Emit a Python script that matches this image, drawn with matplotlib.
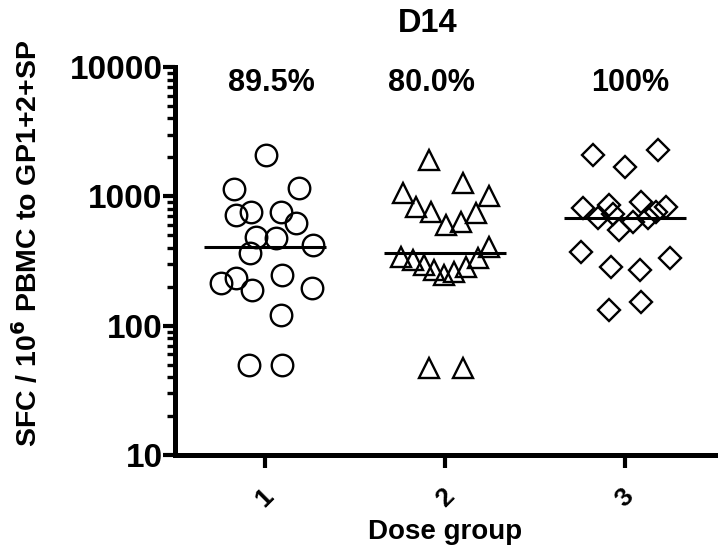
import matplotlib
matplotlib.use("Agg")
import matplotlib.pyplot as plt
from matplotlib.ticker import LogLocator, FixedLocator, NullFormatter
import numpy as np

plt.rcParams['font.family'] = ['Liberation Sans', 'DejaVu Sans']
plt.rcParams['font.weight'] = 'bold'

# ---- data ----
groups = [1, 2, 3]
group_labels = ["1", "2", "3"]
pct_labels = ["89.5%", "80.0%", "100%"]

g1_values = [2089, 1141, 1161, 718, 757, 757, 623, 485, 477, 421, 365,
             214, 234, 189, 247, 196, 121, 50, 50]
g1_offsets = [0.006, -0.172, 0.189, -0.161, -0.078, 0.089, 0.172, -0.05, 0.061, 0.267, -0.083,
              -0.244, -0.161, -0.072, 0.094, 0.261, 0.089, -0.089, 0.094]

g2_values = [1912, 1269, 1062, 1007, 828, 757, 601, 634, 744, 406,
             340, 322, 295, 270, 247, 260, 284, 334, 47, 47]
g2_offsets = [-0.089, 0.1, -0.233, 0.244, -0.161, -0.078, 0.006, 0.089, 0.172, 0.244,
              -0.244, -0.178, -0.117, -0.061, -0.006, 0.05, 0.117, 0.183, -0.089, 0.1]

g3_values = [2089, 2286, 1688, 813, 858, 905, 828, 681, 731, 550, 634, 681, 757,
             372, 284, 270, 334, 132, 153]
g3_offsets = [-0.178, 0.183, 0.0, -0.233, -0.089, 0.089, 0.228, -0.15, -0.067, -0.033, 0.044, 0.128, 0.172,
              -0.244, -0.078, 0.083, 0.25, -0.089, 0.089]

medians = [406, 365, 681]

# ---- figure ----
W, H = 721, 556
fig = plt.figure(figsize=(W / 100, H / 100), dpi=100)
ax = fig.add_axes([175 / W, 1 - 455 / H, 540 / W, 388 / H])

series = [(g1_values, g1_offsets, 'o', 15.5),
          (g2_values, g2_offsets, '^', 14.5),
          (g3_values, g3_offsets, 'D', 11.5)]
for g, (vals, offs, mk, ms) in zip(groups, series):
    xs = np.array(offs) + g
    ax.plot(xs, vals, linestyle='none', marker=mk, markersize=ms,
            markerfacecolor='none', markeredgecolor='black', markeredgewidth=1.7)

for g, m in zip(groups, medians):
    ax.plot([g - 0.34, g + 0.34], [m, m], color='black', lw=2.2, solid_capstyle='butt')

ax.set_yscale('log')
ax.set_ylim(10, 10000)
ax.set_xlim(0.5, 3.5)

ax.yaxis.set_major_locator(FixedLocator([10, 100, 1000, 10000]))
ax.set_yticklabels(["10", "100", "1000", "10000"])
ax.yaxis.set_minor_locator(LogLocator(base=10, subs=np.arange(2, 10)))
ax.yaxis.set_minor_formatter(NullFormatter())

ax.set_xticks(groups)
ax.set_xticklabels(group_labels, rotation=45, ha='center', va='top')

for s in ['top', 'right']:
    ax.spines[s].set_visible(False)
for s in ['left', 'bottom']:
    ax.spines[s].set_linewidth(3.6)

ax.tick_params(axis='y', which='major', length=9, width=3, labelsize=24, pad=0)
ax.tick_params(axis='y', which='minor', length=6, width=2.4)
ax.tick_params(axis='x', which='major', length=9, width=3, labelsize=19, pad=12)

for t in ax.get_yticklabels() + ax.get_xticklabels():
    t.set_fontweight('bold')

ax.set_ylabel("SFC / 10$^{\\mathbf{6}}$ PBMC to GP1+2+SP", fontsize=20.5, fontweight='bold')
ax.yaxis.set_label_coords(-0.245, 0.546)
ax.set_xlabel("Dose group", fontsize=20, fontweight='bold')
ax.xaxis.set_label_coords(0.5, -0.165)

fig.text(428 / W, 1 - 23 / H, "D14", fontsize=23.5, fontweight='bold', ha='center', va='center')

pct_x = [1.033, 1.922, 3.028]
for x, t in zip(pct_x, pct_labels):
    ax.text(x, 0.96, t, transform=ax.get_xaxis_transform(), fontsize=22,
            fontweight='bold', ha='center', va='center')

fig.savefig("out.png", dpi=100)
